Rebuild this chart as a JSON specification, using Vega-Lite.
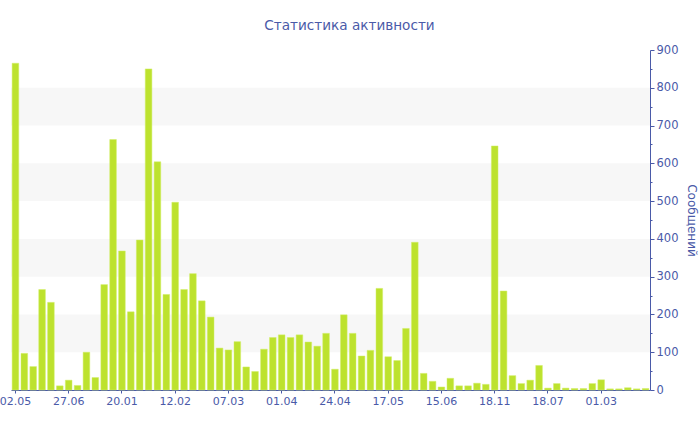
{
  "$schema": "https://vega.github.io/schema/vega-lite/v6.json",
  "autosize": {"type": "none"},
  "width": 639,
  "height": 340,
  "padding": {"left": 11, "top": 50, "right": 50, "bottom": 40},
  "background": "white",
  "title": {
    "text": "Статистика активности",
    "font": "DejaVu Sans",
    "fontSize": 13.6,
    "fontWeight": "normal",
    "color": "#4a5aa8",
    "anchor": "middle",
    "dx": 19,
    "offset": 11
  },
  "datasets": {
    "bands": [
      {"lo": 100, "hi": 200},
      {"lo": 300, "hi": 400},
      {"lo": 500, "hi": 600},
      {"lo": 700, "hi": 800}
    ],
    "activity": [
      {"i": 1, "v": 865}, {"i": 2, "v": 97}, {"i": 3, "v": 62}, {"i": 4, "v": 266},
      {"i": 5, "v": 232}, {"i": 6, "v": 11}, {"i": 7, "v": 26}, {"i": 8, "v": 12},
      {"i": 9, "v": 100}, {"i": 10, "v": 33}, {"i": 11, "v": 279}, {"i": 12, "v": 663},
      {"i": 13, "v": 368}, {"i": 14, "v": 207}, {"i": 15, "v": 397}, {"i": 16, "v": 850},
      {"i": 17, "v": 604}, {"i": 18, "v": 253}, {"i": 19, "v": 497}, {"i": 20, "v": 266},
      {"i": 21, "v": 308}, {"i": 22, "v": 236}, {"i": 23, "v": 193}, {"i": 24, "v": 111},
      {"i": 25, "v": 106}, {"i": 26, "v": 128}, {"i": 27, "v": 61}, {"i": 28, "v": 49},
      {"i": 29, "v": 108}, {"i": 30, "v": 139}, {"i": 31, "v": 146}, {"i": 32, "v": 139},
      {"i": 33, "v": 146}, {"i": 34, "v": 127}, {"i": 35, "v": 116}, {"i": 36, "v": 150},
      {"i": 37, "v": 55}, {"i": 38, "v": 199}, {"i": 39, "v": 150}, {"i": 40, "v": 90},
      {"i": 41, "v": 105}, {"i": 42, "v": 269}, {"i": 43, "v": 88}, {"i": 44, "v": 78},
      {"i": 45, "v": 163}, {"i": 46, "v": 391}, {"i": 47, "v": 44}, {"i": 48, "v": 23},
      {"i": 49, "v": 8}, {"i": 50, "v": 31}, {"i": 51, "v": 11}, {"i": 52, "v": 11},
      {"i": 53, "v": 18}, {"i": 54, "v": 15}, {"i": 55, "v": 646}, {"i": 56, "v": 262},
      {"i": 57, "v": 38}, {"i": 58, "v": 17}, {"i": 59, "v": 26}, {"i": 60, "v": 65},
      {"i": 61, "v": 5}, {"i": 62, "v": 17}, {"i": 63, "v": 5}, {"i": 64, "v": 4},
      {"i": 65, "v": 4}, {"i": 66, "v": 17}, {"i": 67, "v": 27}, {"i": 68, "v": 3},
      {"i": 69, "v": 3}, {"i": 70, "v": 6}, {"i": 71, "v": 3}, {"i": 72, "v": 4}
    ]
  },
  "layer": [
    {
      "data": {"name": "bands"},
      "mark": {"type": "rect", "color": "#f7f7f7"},
      "encoding": {
        "y": {
          "field": "lo",
          "type": "quantitative",
          "scale": {"domain": [0, 900], "nice": false},
          "axis": {
            "orient": "right",
            "title": "Сообщений",
            "titleFont": "DejaVu Sans",
            "titleFontSize": 12,
            "titleFontWeight": "normal",
            "titleColor": "#4a5aa8",
            "titlePadding": 7,
            "values": [0, 50, 100, 150, 200, 250, 300, 350, 400, 450, 500, 550, 600, 650, 700, 750, 800, 850, 900],
            "labelExpr": "datum.value % 100 == 0 ? datum.label : ''",
            "labelFont": "DejaVu Sans",
            "labelFontSize": 11.5,
            "labelColor": "#4a5aa8",
            "labelPadding": 2,
            "labelOverlap": false,
            "domainColor": "#4a5aa8",
            "tickColor": "#4a5aa8",
            "tickSize": {"condition": {"test": "datum.value % 100 == 0", "value": 4}, "value": 2},
            "grid": false
          }
        },
        "y2": {"field": "hi"}
      }
    },
    {
      "data": {"name": "activity"},
      "mark": {"type": "bar", "color": "#bde22e", "stroke": "#d2ee6a", "strokeWidth": 0.5},
      "encoding": {
        "x": {
          "field": "i",
          "type": "ordinal",
          "sort": "ascending",
          "scale": {"paddingInner": 0.25, "paddingOuter": 0.125},
          "axis": {
            "title": null,
            "values": [1, 7, 13, 19, 25, 31, 37, 43, 49, 55, 61, 67],
            "labelExpr": "['02.05','27.06','20.01','12.02','07.03','01.04','24.04','17.05','15.06','18.11','18.07','01.03'][(datum.value - 1) / 6]",
            "labelAngle": 0,
            "labelFont": "DejaVu Sans",
            "labelFontSize": 11,
            "labelColor": "#4a5aa8",
            "labelPadding": 2,
            "labelOverlap": false,
            "domainColor": "#4a5aa8",
            "tickColor": "#4a5aa8",
            "tickSize": 3,
            "grid": false
          }
        },
        "y": {
          "field": "v",
          "type": "quantitative",
          "scale": {"domain": [0, 900], "nice": false},
          "axis": {
            "orient": "right",
            "title": "Сообщений",
            "titleFont": "DejaVu Sans",
            "titleFontSize": 12,
            "titleFontWeight": "normal",
            "titleColor": "#4a5aa8",
            "titlePadding": 7,
            "values": [0, 50, 100, 150, 200, 250, 300, 350, 400, 450, 500, 550, 600, 650, 700, 750, 800, 850, 900],
            "labelExpr": "datum.value % 100 == 0 ? datum.label : ''",
            "labelFont": "DejaVu Sans",
            "labelFontSize": 11.5,
            "labelColor": "#4a5aa8",
            "labelPadding": 2,
            "labelOverlap": false,
            "domainColor": "#4a5aa8",
            "tickColor": "#4a5aa8",
            "tickSize": {"condition": {"test": "datum.value % 100 == 0", "value": 4}, "value": 2},
            "grid": false
          }
        }
      }
    }
  ],
  "config": {
    "view": {"stroke": null}
  }
}
